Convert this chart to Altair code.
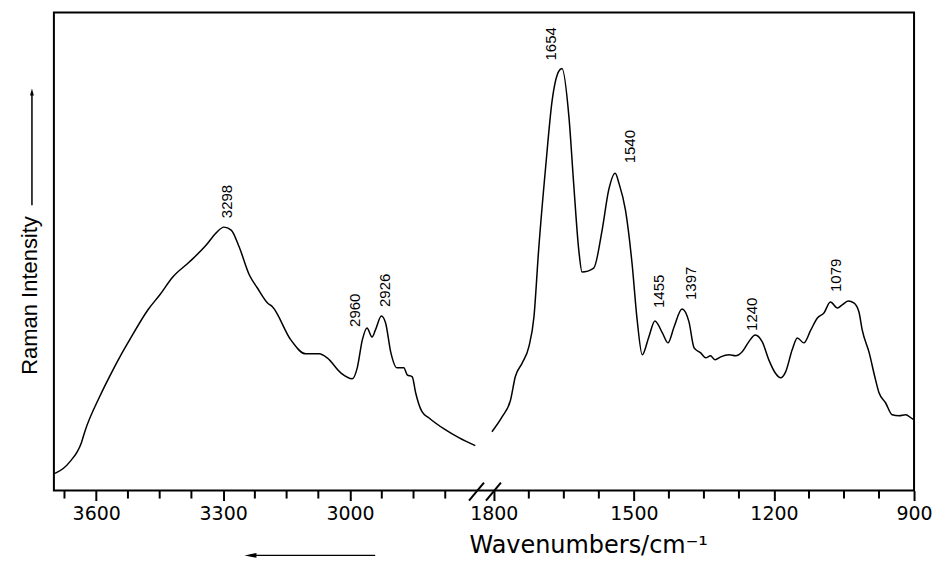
import altair as alt
import pandas as pd

# ---- spectrum, high-wavenumber segment (cm-1) ----
wn_hi = [3700, 3694, 3662, 3635, 3627, 3592, 3564, 3544, 3521, 3478, 3450, 3419, 3380, 3340, 3317,
         3298, 3281, 3262, 3238, 3219, 3195, 3183, 3140, 3105, 3073, 3054, 3022, 2995, 2983, 2971,
         2960, 2948, 2940, 2926, 2916, 2904, 2889, 2873, 2865, 2853, 2845, 2830, 2814, 2775, 2743, 2704]
int_hi = [17, 18, 29, 48, 59, 94, 118, 134, 151, 181, 196, 214, 229, 246, 258,
          264, 261, 244, 216, 203, 188, 184, 151, 137, 137, 133, 118, 112, 123, 151,
          163, 154, 161, 175, 168, 139, 123, 123, 116, 114, 98, 79, 73, 61, 53, 45]

# ---- spectrum, fingerprint segment (cm-1) ----
wn_lo = [1804, 1782, 1764, 1754, 1739, 1725, 1714, 1704, 1689, 1675, 1661, 1654, 1639, 1629, 1618,
         1611, 1586, 1568, 1554, 1540, 1532, 1518, 1504, 1493, 1482, 1468, 1455, 1439, 1427, 1414,
         1397, 1382, 1371, 1357, 1346, 1336, 1326, 1314, 1296, 1282, 1268, 1254, 1240, 1225, 1211,
         1196, 1186, 1175, 1161, 1150, 1136, 1121, 1107, 1093, 1079, 1064, 1054, 1041, 1029, 1018,
         1011, 996, 984, 975, 961, 947, 932, 918, 904, 900]
int_lo = [59, 74, 91, 114, 128, 144, 174, 241, 324, 391, 420, 423, 374, 308, 241,
          219, 223, 261, 301, 318, 308, 281, 228, 171, 136, 154, 170, 158, 148, 164,
          182, 169, 143, 138, 133, 135, 131, 134, 136, 135, 139, 149, 156, 149, 131,
          117, 113, 119, 141, 153, 148, 161, 173, 178, 189, 183, 186, 190, 188, 179,
          161, 138, 114, 98, 88, 76, 75, 76, 72, 71]

# ---- peak annotations ----
peak_labels = ["3298", "2960", "2926", "1654", "1540", "1455", "1397", "1240", "1079"]
label_wn = [3290, 2988, 2918, 1677, 1509, 1446, 1378, 1247, 1067]
label_int = [273, 164, 184, 431, 328, 183, 191, 160, 199]

# ---- axis ticks ----
major_ticks = [3600, 3300, 3000, 1800, 1500, 1200, 900]
minor_ticks = [3675, 3525, 3450, 3375, 3225, 3150, 3075, 2925, 2850, 2775,
               1725, 1650, 1575, 1425, 1350, 1275, 1125, 1050, 975]

# broken axis: 3700-2700 then 1836-900
x_domain = [3700, 2700, 1836, 900]
x_range = [0, 424, 424, 862]
y_domain = [0, 479]

spec = pd.DataFrame({
    "wn": wn_hi + wn_lo,
    "inten": int_hi + int_lo,
    "seg": ["hi"] * len(wn_hi) + ["lo"] * len(wn_lo),
})
labels = pd.DataFrame({"wn": label_wn, "inten": label_int, "txt": peak_labels})
minor = pd.DataFrame({"wn": minor_ticks})
dummy = pd.DataFrame({"a": [0]})

xscale = alt.Scale(domain=x_domain, range=x_range, nice=False, zero=False)
yscale = alt.Scale(domain=y_domain, nice=False, zero=False)

xaxis = alt.Axis(
    values=major_ticks,
    format="d",
    tickSize=10,
    tickWidth=2,
    tickColor="black",
    domain=False,
    grid=False,
    labelFont="DejaVu Sans",
    labelFontSize=19,
    labelColor="black",
    labelPadding=4,
    labelFlush=False,
    labelOverlap=False,
    title="Wavenumbers/cm\u207b\u00b9",
    titleFont="DejaVu Sans",
    titleFontSize=24,
    titleFontWeight="normal",
    titleColor="black",
    titleX=416,
    titleY=62,
    titleAlign="left",
    titleBaseline="alphabetic",
)
yaxis = alt.Axis(
    domain=False, ticks=False, labels=False, grid=False,
    title="Raman Intensity",
    titleFont="Liberation Sans",
    titleFontSize=22,
    titleFontWeight="normal",
    titleColor="black",
    titleAngle=270,
    titleX=-17,
    titleY=283,
    titleAlign="center",
    titleBaseline="alphabetic",
)

line = alt.Chart(spec).transform_window(
    idx="row_number()", groupby=["seg"]
).mark_line(color="black", strokeWidth=1.5, interpolate="monotone").encode(
    x=alt.X("wn:Q", scale=xscale, axis=xaxis),
    y=alt.Y("inten:Q", scale=yscale, axis=yaxis),
    detail="seg:N",
    order="idx:Q",
)

minor_rules = alt.Chart(minor).mark_rule(color="black", strokeWidth=2).encode(
    x=alt.X("wn:Q", scale=xscale),
    y=alt.value(479),
    y2=alt.value(487),
)

text = alt.Chart(labels).mark_text(
    angle=270, align="left", baseline="middle",
    font="Liberation Sans", fontSize=15, color="black",
).encode(
    x=alt.X("wn:Q", scale=xscale),
    y=alt.Y("inten:Q", scale=yscale),
    text="txt:N",
)

# axis break marks
slash1 = alt.Chart(dummy).mark_rule(color="black", strokeWidth=2).encode(
    x=alt.value(416), x2=alt.value(431), y=alt.value(489), y2=alt.value(471)
)
slash2 = alt.Chart(dummy).mark_rule(color="black", strokeWidth=2).encode(
    x=alt.value(433), x2=alt.value(448), y=alt.value(489), y2=alt.value(471)
)

# direction arrows
varrow = alt.Chart(dummy).mark_rule(color="black", strokeWidth=1.5).encode(
    x=alt.value(-22), y=alt.value(193), y2=alt.value(80)
)
vhead = alt.Chart(dummy).mark_point(
    shape="M 0 -1 L 0.55 1 L -0.55 1 Z", filled=True, color="black", size=49, opacity=1
).encode(x=alt.value(-22), y=alt.value(79.5))
harrow = alt.Chart(dummy).mark_rule(color="black", strokeWidth=1.2).encode(
    x=alt.value(196), x2=alt.value(322), y=alt.value(544)
)
hhead = alt.Chart(dummy).mark_point(
    shape="M -1 0 L 1 -0.4 L 1 0.4 Z", filled=True, color="black", size=144, opacity=1
).encode(x=alt.value(197), y=alt.value(544))

chart = alt.layer(
    line, minor_rules, text, slash1, slash2, varrow, vhead, harrow, hhead
).properties(
    width=862,
    height=479,
    padding={"left": 46, "top": 4, "right": 20, "bottom": 70},
    autosize=alt.AutoSizeParams(type="none"),
    background="white",
).configure_view(
    stroke="black", strokeWidth=2
)

chart.save("out.html", embed_options={"renderer": "svg", "actions": False})
